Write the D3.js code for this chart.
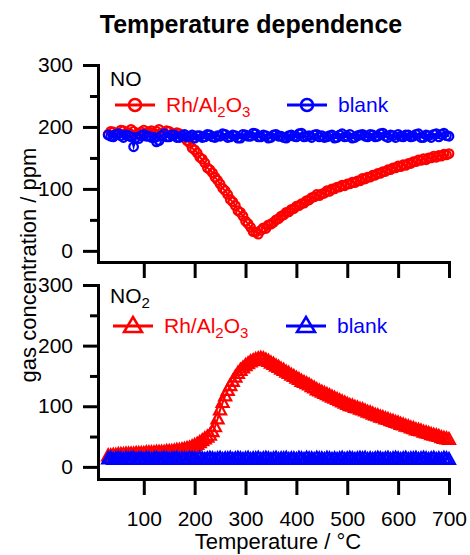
<!DOCTYPE html>
<html>
<head>
<meta charset="utf-8">
<script src="https://cdn.jsdelivr.net/npm/d3@7"></script>
<style>
  body { margin: 0; background: #fff; }
  svg text { font-family: "Liberation Sans", Arial, sans-serif; }
</style>
</head>
<body>
<svg id="chart" width="470" height="555"></svg>
<script>
// temperature (°C), one reading every 5 degrees
const temps = [
  30, 35, 40, 45, 50, 55, 60, 65, 70, 75,
  80, 85, 90, 95, 100, 105, 110, 115, 120, 125,
  130, 135, 140, 145, 150, 155, 160, 165, 170, 175,
  180, 185, 190, 195, 200, 205, 210, 215, 220, 225,
  230, 235, 240, 245, 250, 255, 260, 265, 270, 275,
  280, 285, 290, 295, 300, 305, 310, 315, 320, 325,
  330, 335, 340, 345, 350, 355, 360, 365, 370, 375,
  380, 385, 390, 395, 400, 405, 410, 415, 420, 425,
  430, 435, 440, 445, 450, 455, 460, 465, 470, 475,
  480, 485, 490, 495, 500, 505, 510, 515, 520, 525,
  530, 535, 540, 545, 550, 555, 560, 565, 570, 575,
  580, 585, 590, 595, 600, 605, 610, 615, 620, 625,
  630, 635, 640, 645, 650, 655, 660, 665, 670, 675,
  680, 685, 690, 695, 700
]

// NO, ppm
const noRh = [
  188, 193, 192, 189, 190, 195, 194, 190, 191, 196,
  193, 188, 189, 192, 195, 191, 192, 194, 190, 193,
  196, 190, 191, 194, 193, 188, 189, 191, 189, 186,
  183, 178, 174, 166, 163, 158, 151, 148, 142, 134,
  131, 126, 119, 114, 108, 101, 97, 91, 83, 79,
  73, 65, 62, 56, 48, 44, 38, 31, 30, 27,
  33, 37, 36, 42, 43, 46, 50, 52, 56, 58,
  62, 63, 67, 68, 72, 73, 76, 77, 81, 82,
  86, 87, 91, 89, 92, 93, 97, 96, 100, 100,
  103, 103, 106, 105, 108, 108, 111, 110, 113, 113,
  117, 116, 119, 119, 122, 122, 125, 125, 128, 128,
  131, 131, 134, 134, 137, 136, 139, 138, 141, 141,
  144, 144, 147, 146, 149, 147, 150, 150, 153, 151,
  154, 153, 156, 155, 157
]
const noBlank = [
  187, 185, 184, 188, 189, 186, 183, 187, 186, 184,
  168, 183, 181, 186, 188, 185, 185, 183, 183, 176,
  178, 186, 189, 184, 184, 187, 187, 183, 183, 186,
  188, 184, 185, 187, 182, 186, 186, 183, 184, 188,
  187, 184, 183, 186, 185, 189, 188, 183, 184, 187,
  186, 182, 182, 188, 187, 185, 185, 190, 189, 184,
  184, 187, 186, 182, 183, 187, 188, 185, 185, 183,
  182, 186, 187, 185, 184, 189, 190, 184, 185, 186,
  183, 187, 188, 184, 186, 183, 184, 186, 187, 182,
  183, 187, 189, 184, 185, 188, 182, 183, 186, 187,
  188, 185, 184, 188, 187, 184, 185, 189, 190, 185,
  183, 187, 186, 183, 188, 185, 184, 187, 187, 184,
  185, 188, 189, 183, 183, 187, 186, 183, 188, 189,
  184, 188, 190, 186, 185
]

// NO2, ppm
const no2Rh = [
  18, 18, 19, 19, 20, 20, 20, 21, 21, 21,
  21, 22, 22, 22, 22, 23, 23, 23, 23, 24,
  24, 24, 24, 25, 25, 25, 26, 27, 27, 28,
  29, 30, 31, 33, 35, 37, 40, 43, 46, 49,
  52, 58, 66, 79, 94, 106, 117, 126, 134, 141,
  148, 154, 159, 163, 167, 170, 173, 175, 177, 178,
  179, 178, 176, 174, 171, 169, 166, 164, 161, 159,
  156, 154, 151, 149, 146, 144, 141, 139, 137, 135,
  132, 130, 127, 125, 123, 121, 119, 117, 115, 113,
  111, 109, 107, 105, 103, 101, 100, 98, 97, 95,
  94, 92, 90, 89, 87, 85, 84, 82, 81, 79,
  78, 76, 75, 73, 72, 70, 69, 67, 66, 64,
  63, 61, 60, 59, 57, 56, 55, 53, 52, 51,
  50, 48, 47, 46, 45
]
const no2Blank = [
  13, 14, 12, 13, 14, 13, 12, 14, 13, 13,
  14, 12, 13, 13, 12, 14, 13, 12, 13, 14,
  12, 13, 14, 13, 12, 13, 13, 14, 12, 13,
  13, 12, 14, 13, 13, 12, 14, 13, 12, 13,
  14, 13, 12, 13, 14, 12, 13, 13, 14, 12,
  13, 14, 13, 12, 13, 14, 12, 13, 13, 14,
  12, 13, 14, 13, 12, 13, 14, 12, 13, 13,
  14, 12, 13, 13, 12, 14, 13, 12, 14, 13,
  13, 12, 14, 13, 13, 12, 14, 13, 12, 13,
  12, 13, 14, 12, 13, 14, 13, 12, 13, 14,
  13, 14, 12, 13, 12, 13, 14, 13, 12, 13,
  14, 12, 13, 14, 13, 12, 13, 14, 12, 13,
  13, 14, 12, 13, 14, 13, 12, 13, 14, 12,
  13, 12, 14, 13, 12
]

const xTicks = [100, 200, 300, 400, 500, 600, 700]
const yMajor = [0, 100, 200, 300]
const yMinor = [50, 150, 250]

const RED = '#ff0000'
const BLUE = '#0000ff'

const svg = d3.select('#chart')

const x = d3.scaleLinear().domain([10, 700]).range([98, 449])
const yTop = d3.scaleLinear().domain([-18, 300]).range([262, 65])
const yBot = d3.scaleLinear().domain([-20, 300]).range([479, 285])

const circle = (r) => `M${r},0A${r},${r} 0 1,1 ${-r},0A${r},${r} 0 1,1 ${r},0Z`
const triangle = (w, h) => `M0,${-h * 0.6}L${w / 2},${h * 0.4}L${-w / 2},${h * 0.4}Z`

function styleAxis(g) {
  g.selectAll('path, line').attr('stroke', '#000').attr('stroke-width', 3)
  g.select('.domain').attr('stroke-linecap', 'square')
  g.selectAll('text').attr('font-size', 21).attr('fill', '#000')
    .attr('font-family', '"Liberation Sans", Arial, sans-serif')
}

function drawAxes(y, labels) {
  const xb = y.range()[0]
  svg.append('g')
    .attr('transform', `translate(0, ${xb})`)
    .call(d3.axisBottom(x).tickValues(xTicks).tickSize(16).tickPadding(16)
      .tickSizeOuter(0).tickFormat(labels ? d3.format('d') : ''))
    .call(styleAxis)

  svg.append('g')
    .attr('transform', 'translate(98, 0)')
    .call(d3.axisLeft(y).tickValues(yMinor).tickSize(8).tickFormat('').tickSizeOuter(0))
    .call(styleAxis)

  svg.append('g')
    .attr('transform', 'translate(98, 0)')
    .call(d3.axisLeft(y).tickValues(yMajor).tickSize(15).tickPadding(10).tickSizeOuter(0))
    .call(styleAxis)
}

function drawSeries(y, vals, color, marker) {
  const pts = temps.map((t, i) => [x(t), y(vals[i])])
  svg.append('path')
    .attr('d', d3.line()(pts))
    .attr('fill', 'none')
    .attr('stroke', color)
    .attr('stroke-width', 2)
  svg.append('g')
    .selectAll('path')
    .data(pts)
    .join('path')
    .attr('transform', d => `translate(${d[0]}, ${d[1]})`)
    .attr('d', marker)
    .attr('fill', 'none')
    .attr('stroke', color)
    .attr('stroke-width', 2.2)
}

function legendItem(x0, yLine, yText, color, marker, label) {
  svg.append('line')
    .attr('x1', x0).attr('x2', x0 + 40)
    .attr('y1', yLine).attr('y2', yLine)
    .attr('stroke', color).attr('stroke-width', 3)
  svg.append('path')
    .attr('transform', `translate(${x0 + 20}, ${yLine})`)
    .attr('d', marker)
    .attr('fill', 'none')
    .attr('stroke', color)
    .attr('stroke-width', 2.5)
  const t = svg.append('text')
    .attr('x', x0 + 51).attr('y', yText)
    .attr('fill', color).attr('font-size', 21)
  if (label === 'Rh') {
    t.append('tspan').text('Rh/Al')
    t.append('tspan').text('2').attr('font-size', 15).attr('dy', 5)
    t.append('tspan').text('O').attr('dy', -5)
    t.append('tspan').text('3').attr('font-size', 15).attr('dy', 5)
  } else {
    t.text(label)
  }
}

// panels
drawAxes(yTop, false)
drawAxes(yBot, true)

drawSeries(yTop, noRh, RED, circle(4.3))
drawSeries(yTop, noBlank, BLUE, circle(4.3))
drawSeries(yBot, no2Rh, RED, triangle(12, 11))
drawSeries(yBot, no2Blank, BLUE, triangle(12, 11))

// panel labels
svg.append('text').attr('x', 110).attr('y', 86).attr('font-size', 21).text('NO')
const no2 = svg.append('text').attr('x', 110).attr('y', 303).attr('font-size', 21)
no2.append('tspan').text('NO')
no2.append('tspan').text('2').attr('font-size', 15).attr('dy', 5)

// legends
legendItem(115, 105, 112, RED, circle(6), 'Rh')
legendItem(287, 105, 112, BLUE, circle(6), 'blank')
legendItem(113, 326, 333, RED, triangle(18, 15), 'Rh')
legendItem(286, 326, 333, BLUE, triangle(18, 15), 'blank')

// titles
svg.append('text')
  .attr('x', 251).attr('y', 33)
  .attr('text-anchor', 'middle')
  .attr('font-size', 25)
  .attr('font-weight', 'bold')
  .text('Temperature dependence')

svg.append('text')
  .attr('x', 278).attr('y', 549)
  .attr('text-anchor', 'middle')
  .attr('font-size', 22)
  .text('Temperature / °C')

svg.append('text')
  .attr('transform', 'translate(36, 265) rotate(-90)')
  .attr('text-anchor', 'middle')
  .attr('font-size', 22)
  .text('gas concentration / ppm')
</script>
</body>
</html>
